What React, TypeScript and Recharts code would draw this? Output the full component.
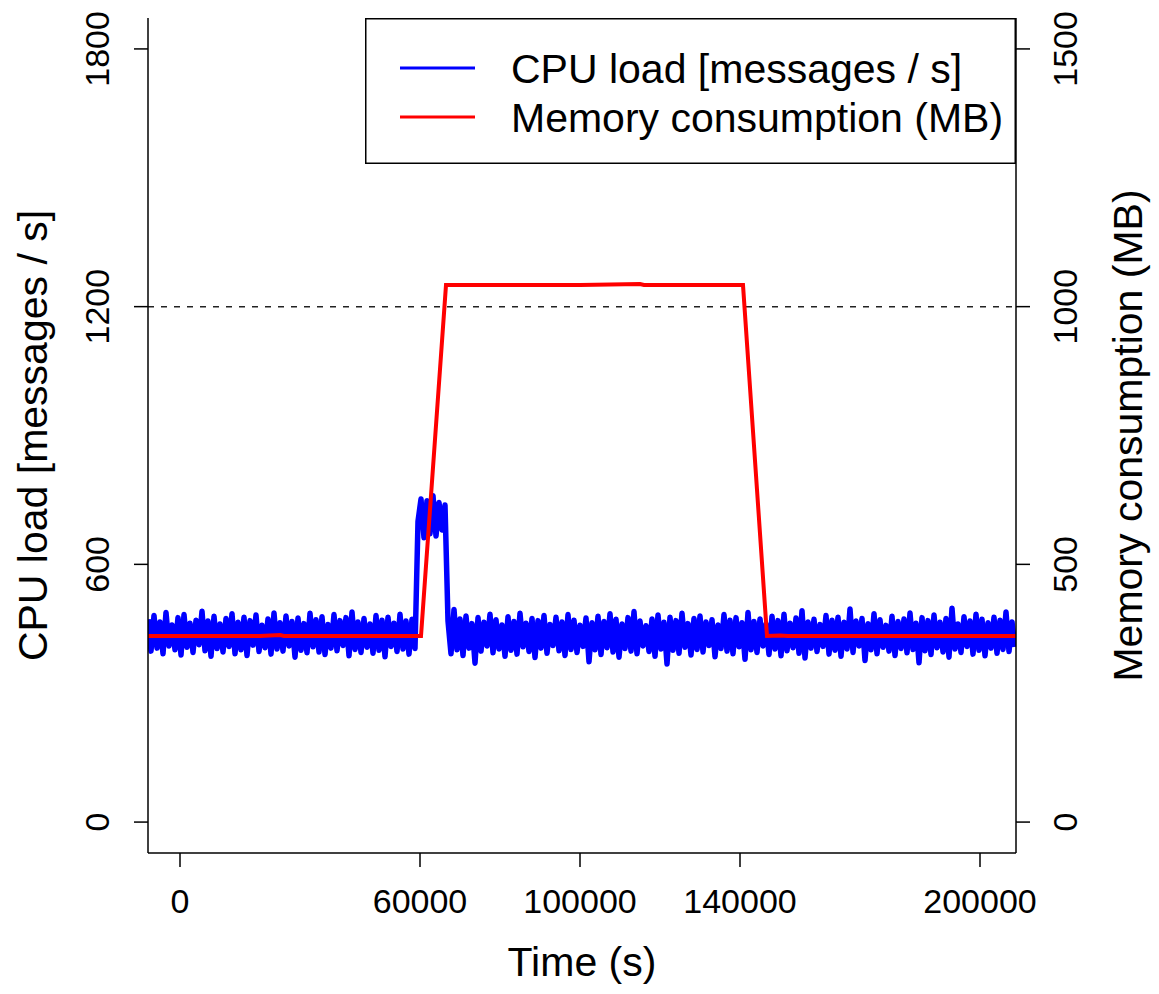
import { LineChart, Line, XAxis, YAxis, ReferenceLine } from "recharts";

const FONT = "'Liberation Sans', Arial, Helvetica, sans-serif";

// CPU samples, one every 750 s starting at t = -8000 s
const cpuStart = -8000;
const cpuStep = 750;
const cpuLoad = [
  472, 398, 481, 405, 466, 392, 488, 410, 459, 401,
  476, 389, 483, 407, 463, 395, 470, 413, 491, 399,
  468, 386, 479, 404, 461, 396, 474, 409, 485, 392,
  465, 401, 477, 388, 469, 412, 482, 397, 458, 406,
  473, 391, 487, 403, 464, 398, 480, 410, 467, 384,
  475, 400, 462, 394, 486, 408, 471, 396, 478, 390,
  460, 405, 483, 399, 469, 411, 476, 387, 489, 402,
  466, 395, 474, 407, 461, 393, 481, 400, 470, 385,
  477, 409, 463, 397, 484, 403, 468, 391, 472, 404,
  // burst while memory ramps up
  700, 752, 662, 748, 671, 760, 666, 744, 680, 738,
  468, 392, 495, 401, 473, 388, 480, 405, 462, 370,
  476, 398, 465, 410, 484, 394, 471, 403, 459, 386,
  478, 400, 467, 391, 486, 408, 463, 397, 474, 383,
  469, 405, 481, 393, 460, 411, 477, 399, 466, 388,
  483, 402, 470, 395, 458, 409, 475, 373, 464, 401,
  479, 390, 467, 406, 485, 396, 472, 384, 461, 404,
  476, 398, 490, 392, 468, 410, 457, 397, 473, 386,
  482, 403, 465, 368, 477, 400, 469, 393, 486, 407,
  462, 389, 474, 402, 480, 396, 466, 411, 471, 385,
  459, 404, 483, 398, 470, 392, 476, 408, 464, 379,
  488, 401, 467, 395, 473, 410, 461, 390, 479, 403,
  469, 387, 484, 399, 463, 406, 475, 393, 492, 382,
  466, 405, 472, 397, 460, 409, 481, 391, 470, 400,
  477, 386, 465, 403, 496, 395, 468, 410, 474, 376,
  462, 401, 485, 392, 471, 407, 458, 398, 479, 388,
  467, 404, 473, 394, 487, 402, 463, 371, 476, 399,
  469, 390, 482, 406, 465, 396, 474, 384, 498, 403,
  461, 395, 478, 409, 468, 391, 484, 400, 472, 387,
  464, 405, 477, 393, 470, 402, 489, 397, 466, 408,
];

const memTime = [
  -8000, 20000, 25000, 26000, 60250, 66500, 100000, 115000, 116000, 140750,
  146750, 150000, 152000, 209000,
];
const memMB = [361, 361, 363, 361, 361, 1042, 1042, 1044, 1042, 1042, 361, 362, 361, 361];

const timeTicks = [0, 60000, 100000, 140000, 200000];
const cpuTicks = [0, 600, 1200, 1800];
const memTicks = [0, 500, 1000, 1500];
const cpuLimit = 1200;

const seriesNames = ["CPU load [messages / s]", "Memory consumption (MB)"];
const seriesColors = ["#0000ff", "#ff0000"];

const cpuData = cpuLoad.map((v, i) => ({ t: cpuStart + i * cpuStep, cpu: v }));
const memData = memTime.map((t, i) => ({ t, mem: memMB[i] }));

const TICK_SIZE = 34;
const TITLE_SIZE = 41;

const LeftTick = (p: any) => {
  const x = p.x - 25;
  return (
    <text x={x} y={p.y} transform={`rotate(-90 ${x} ${p.y})`} textAnchor="middle"
      fontFamily={FONT} fontSize={TICK_SIZE} fill="#000">
      {p.payload.value}
    </text>
  );
};

const RightTick = (p: any) => {
  const x = p.x + 47;
  return (
    <text x={x} y={p.y} transform={`rotate(-90 ${x} ${p.y})`} textAnchor="middle"
      fontFamily={FONT} fontSize={TICK_SIZE} fill="#000">
      {p.payload.value}
    </text>
  );
};

const BottomTick = (p: any) => (
  <text x={p.x} y={p.y + 46} textAnchor="middle" fontFamily={FONT} fontSize={TICK_SIZE} fill="#000">
    {p.payload.value}
  </text>
);

const XTitle = (p: any) => {
  const vb = p.viewBox;
  return (
    <text x={vb.x + vb.width / 2} y={vb.y + 123} textAnchor="middle"
      fontFamily={FONT} fontSize={TITLE_SIZE} fill="#000">
      Time (s)
    </text>
  );
};

const YTitle = (p: any) => {
  const vb = p.viewBox;
  const x = p.side === "left" ? vb.x + 47 : vb.x + 126;
  const y = vb.y + vb.height / 2;
  return (
    <text x={x} y={y} transform={`rotate(-90 ${x} ${y})`} textAnchor="middle"
      fontFamily={FONT} fontSize={TITLE_SIZE} fill="#000">
      {p.text}
    </text>
  );
};

// legend box sits in the top-right corner of the plot frame
const LegendBox = () => (
  <svg width={651} height={146} style={{ position: "absolute", left: 365, top: 18, display: "block" }}>
    <rect x={0.75} y={0.75} width={649.5} height={144.5} fill="#fff" stroke="#000" strokeWidth={1.5} />
    {seriesNames.map((name, i) => (
      <g key={name}>
        <line x1={35} x2={110} y1={50 + i * 49} y2={50 + i * 49} stroke={seriesColors[i]} strokeWidth={3} />
        <text x={146} y={65 + i * 49} fontFamily={FONT} fontSize={TITLE_SIZE} fill="#000">
          {name}
        </text>
      </g>
    ))}
  </svg>
);

export default function App() {
  return (
    <div style={{ position: "absolute", left: 0, top: 0, width: 1159, height: 994, background: "#fff" }}>
      <LineChart width={1159} height={994} margin={{ top: 18, right: 0, bottom: 0, left: 0 }}>
        <XAxis dataKey="t" type="number" domain={[-8000, 209000]} ticks={timeTicks}
          allowDataOverflow height={141} tickSize={14} tickMargin={0}
          stroke="#000" strokeWidth={1.5} tick={<BottomTick />} label={<XTitle />} />
        <XAxis xAxisId="top" orientation="top" type="number" domain={[-8000, 209000]}
          height={0} tick={false} tickLine={false} stroke="#000" strokeWidth={1.5} />
        <YAxis yAxisId="cpu" type="number" domain={[-72, 1872]} ticks={cpuTicks}
          allowDataOverflow width={148} tickSize={14} tickMargin={0}
          stroke="#000" strokeWidth={1.5} tick={<LeftTick />}
          label={<YTitle side="left" text="CPU load [messages / s]" />} />
        <YAxis yAxisId="mem" orientation="right" type="number" domain={[-60, 1560]} ticks={memTicks}
          allowDataOverflow width={143} tickSize={14} tickMargin={0}
          stroke="#000" strokeWidth={1.5} tick={<RightTick />}
          label={<YTitle side="right" text="Memory consumption (MB)" />} />
        <ReferenceLine yAxisId="cpu" y={cpuLimit} stroke="#222" strokeWidth={1.5} strokeDasharray="6 7" />
        <Line data={cpuData} yAxisId="cpu" dataKey="cpu" name={seriesNames[0]} type="linear"
          stroke={seriesColors[0]} strokeWidth={5.5} strokeLinejoin="round" dot={false} isAnimationActive={false} />
        <Line data={memData} yAxisId="mem" dataKey="mem" name={seriesNames[1]} type="linear"
          stroke={seriesColors[1]} strokeWidth={4} dot={false} isAnimationActive={false} />
      </LineChart>
      <LegendBox />
    </div>
  );
}
